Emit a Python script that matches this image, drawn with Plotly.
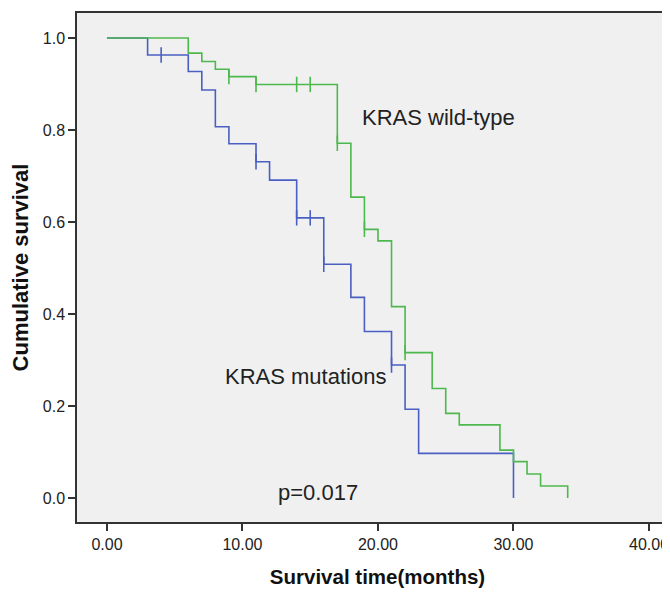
import plotly.graph_objects as go

# Kaplan-Meier step data
wt_time = [0, 6, 7, 8, 9, 11, 17, 18, 19, 20, 21, 22, 24, 25, 26, 29, 30, 31, 32, 34]
wt_surv = [1.0, 0.967, 0.949, 0.932, 0.916, 0.899, 0.771, 0.654, 0.584, 0.559, 0.416,
           0.316, 0.238, 0.184, 0.159, 0.104, 0.079, 0.052, 0.026, 0.0]
wt_cens_time = [9, 11, 14, 15, 17, 19, 22]
wt_cens_surv = [0.916, 0.899, 0.899, 0.899, 0.771, 0.584, 0.316]

mut_time = [0, 3, 6, 7, 8, 9, 11, 12, 14, 16, 18, 19, 21, 22, 23, 30]
mut_surv = [1.0, 0.963, 0.927, 0.887, 0.807, 0.770, 0.731, 0.691, 0.609, 0.508,
            0.436, 0.362, 0.289, 0.193, 0.097, 0.0]
mut_cens_time = [4, 11, 14, 15, 16, 21]
mut_cens_surv = [0.963, 0.731, 0.609, 0.609, 0.508, 0.289]

x_ticks = [0, 10, 20, 30, 40]
x_tick_labels = ["0.00", "10.00", "20.00", "30.00", "40.00"]
y_ticks = [0.0, 0.2, 0.4, 0.6, 0.8, 1.0]
y_tick_labels = ["0.0", "0.2", "0.4", "0.6", "0.8", "1.0"]

GREEN = "#4DB84D"
BLUE = "#4A5FC1"

fig = go.Figure()
fig.add_trace(go.Scatter(x=mut_time, y=mut_surv, mode="lines", line_shape="hv",
                         line=dict(color=BLUE, width=1.6), showlegend=False, hoverinfo="skip"))
fig.add_trace(go.Scatter(x=mut_cens_time, y=mut_cens_surv, mode="markers",
                         marker=dict(symbol="line-ns", size=11, line=dict(color=BLUE, width=1.6)),
                         showlegend=False, hoverinfo="skip"))
fig.add_trace(go.Scatter(x=wt_time, y=wt_surv, mode="lines", line_shape="hv",
                         line=dict(color=GREEN, width=1.6), showlegend=False, hoverinfo="skip"))
fig.add_trace(go.Scatter(x=wt_cens_time, y=wt_cens_surv, mode="markers",
                         marker=dict(symbol="line-ns", size=11, line=dict(color=GREEN, width=1.6)),
                         showlegend=False, hoverinfo="skip"))

font_main = "Liberation Sans, Arial, sans-serif"

fig.add_annotation(x=18.7, y=0.828, text="KRAS wild-type", showarrow=False, xanchor="left",
                   yanchor="middle", font=dict(family=font_main, size=22, color="#222222"))
fig.add_annotation(x=8.55, y=0.265, text="KRAS mutations", showarrow=False, xanchor="left",
                   yanchor="middle", font=dict(family=font_main, size=22, color="#222222"))
fig.add_annotation(x=12.5, y=0.011, text="p=0.017", showarrow=False, xanchor="left",
                   yanchor="middle", font=dict(family=font_main, size=22, color="#222222"))

# the page body adds an 8px offset; margins compensate so the plot sits where the reference has it
fig.update_layout(
    width=670, height=593,
    margin=dict(l=69, r=0, t=5, b=79),
    paper_bgcolor="white",
    plot_bgcolor="#F0F0F0",
    font=dict(family=font_main, color="#222222"),
    xaxis=dict(range=[-2.21, 42.14], tickvals=x_ticks, ticktext=x_tick_labels,
               automargin=False,
               showgrid=False, zeroline=False, showline=True, linecolor="#333333", linewidth=1.5,
               mirror=True, ticks="outside", ticklen=7, tickwidth=1.5, tickcolor="#333333",
               tickfont=dict(size=16, family=font_main, color="#222222"),
               title=dict(text="<b>Survival time(months)</b>", standoff=18,
                          font=dict(size=20.5, family=font_main, color="#111111"))),
    yaxis=dict(range=[-0.0522, 1.0543], tickvals=y_ticks, ticktext=y_tick_labels,
               automargin=False,
               showgrid=False, zeroline=False, showline=True, linecolor="#333333", linewidth=1.5,
               ticks="outside", ticklen=7, tickwidth=1.5, tickcolor="#333333",
               tickfont=dict(size=16, family=font_main, color="#222222"),
               title=dict(text="<b>Cumulative survival</b>", standoff=8,
                          font=dict(size=22, family=font_main, color="#111111"))),
)

fig.write_html("out.html")
